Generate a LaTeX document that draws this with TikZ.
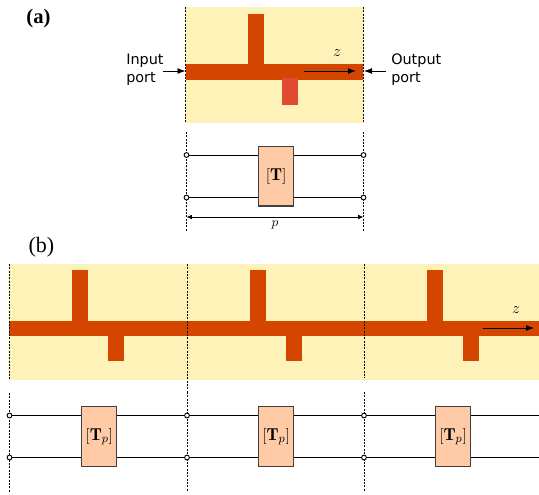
\documentclass[tikz,border=0pt]{standalone}
\usepackage{fontspec}
\newfontfamily\portfont{DejaVu Sans}
\newfontfamily\tagfont{Liberation Serif}
\usetikzlibrary{positioning,arrows.meta}
\definecolor{substrate}{HTML}{FFF2B8}
\definecolor{strip}{HTML}{D44500}
\definecolor{stubred}{HTML}{DF4A30}
\definecolor{blockfill}{HTML}{FFCBA6}
\begin{document}
\begin{tikzpicture}
[x=0.75pt,y=-0.75pt,
cell/.style={draw=black!75,fill=blockfill,line width=0.8pt,minimum width=26.5pt,minimum height=44.5pt,inner sep=0pt,font=\fontsize{13}{15}\selectfont},
term/.style={draw,circle,fill=white,line width=0.7pt,minimum size=3.6pt,inner sep=0pt},
port/.style={font=\portfont\fontsize{10.8}{13.5}\selectfont,align=left,anchor=west,inner sep=0pt},
tag/.style={font=\tagfont\fontsize{16.5}{18}\selectfont,inner sep=0pt},
wire/.style={line width=0.7pt},
cut/.style={line width=0.5pt,dash pattern=on 1.5pt off 1pt},
axis/.style={-{Latex[length=6pt,width=4.5pt]},line width=0.7pt}]
\useasboundingbox (0,0) rectangle (539,494);
% panel a, layout
\fill[substrate] (185,7) rectangle (364,123);
\fill[strip] (185.5,64) rectangle (363,79.5);
\fill[strip] (248,14) rectangle (264,64);
\fill[stubred] (282,78) rectangle (298,105);
\coordinate (ca1) at (185.5,7); \coordinate (ca2) at (185.5,123);
\coordinate (cb1) at (363.5,7); \coordinate (cb2) at (363.5,123);
\draw[cut] (ca1) -- (ca2); \draw[cut] (cb1) -- (cb2);
\node[tag,font=\tagfont\bfseries\fontsize{15.5}{18}\selectfont](taga) at (38.5,19){(a)};
\node[port](inport) at (126,69.5){Input\\port};
\node[port](outport) at (391,69.5){Output\\port};
\coordinate (ina) at (163,71); \coordinate (inb) at (185.5,71);
\coordinate (outa) at (386,71); \coordinate (outb) at (364,71);
\draw[axis] (ina) -- (inb); \draw[axis] (outa) -- (outb);
\coordinate (za) at (304,71); \coordinate (zb) at (356,71);
\draw[axis] (za) -- (zb);
\node[font=\fontsize{13}{15}\selectfont](za label) at (337,53){$z$};
% panel a, circuit
\coordinate (da1) at (186.5,132); \coordinate (da2) at (186.5,232);
\coordinate (db1) at (363.5,132); \coordinate (db2) at (363.5,232);
\draw[cut] (da1) -- (da2); \draw[cut] (db1) -- (db2);
\node[cell](T) at (276.2,176.3){$[\mathbf{T}]$};
\node[term](t1) at (186.5,155){}; \node[term](t2) at (186.5,197.5){};
\node[term](t3) at (363.5,155){}; \node[term](t4) at (363.5,197.5){};
\draw[wire] (t1) -- (T.west |- t1); \draw[wire] (T.east |- t3) -- (t3);
\draw[wire] (t2) -- (T.west |- t2); \draw[wire] (T.east |- t4) -- (t4);
\coordinate (pa) at (186.5,217); \coordinate (pb) at (363.5,217);
\draw[{Latex[length=4pt,width=3.5pt]}-{Latex[length=4pt,width=3.5pt]},line width=0.7pt] (pa) -- (pb);
\node(p label) at (275,225){$p$};
% panel b, layout
\node[tag](tagb) at (41.5,247){(b)};
\fill[substrate] (9,264) rectangle (539,379.5);
\fill[strip] (9,321) rectangle (539,336);
\fill[strip] (72,270) rectangle (88,321);
\fill[strip] (249.5,270) rectangle (265.5,321);
\fill[strip] (427,270) rectangle (443,321);
\fill[strip] (108,336) rectangle (124,361);
\fill[strip] (285.5,336) rectangle (301.5,361);
\fill[strip] (463,336) rectangle (479,361);
\coordinate (ea1) at (9.5,264); \coordinate (ea2) at (9.5,379);
\coordinate (eb1) at (187,264); \coordinate (eb2) at (187,392);
\coordinate (ec1) at (364,264); \coordinate (ec2) at (364,378);
\draw[cut] (ea1) -- (ea2); \draw[cut] (eb1) -- (eb2); \draw[cut] (ec1) -- (ec2);
\coordinate (zc) at (483,328); \coordinate (zd) at (534,328);
\draw[axis] (zc) -- (zd);
\node[font=\fontsize{13}{15}\selectfont](zb label) at (516,310){$z$};
% panel b, circuit
\coordinate (fa1) at (9.5,393); \coordinate (fa2) at (9.5,492);
\coordinate (fb1) at (187,392); \coordinate (fb2) at (187,492);
\coordinate (fc1) at (364,392); \coordinate (fc2) at (364,492);
\draw[cut] (fa1) -- (fa2); \draw[cut] (fb1) -- (fb2); \draw[cut] (fc1) -- (fc2);
\node[cell](Tp1) at (99.2,436.5){$[\mathbf{T}_p]$};
\node[cell,right=105.4pt of Tp1](Tp2){$[\mathbf{T}_p]$};
\node[cell,right=105.4pt of Tp2](Tp3){$[\mathbf{T}_p]$};
\node[term](u1) at (9.5,415.5){}; \node[term](u2) at (9.5,457.5){};
\node[term](u3) at (187,415.5){}; \node[term](u4) at (187,457.5){};
\node[term](u5) at (364,415.5){}; \node[term](u6) at (364,457.5){};
\coordinate (v1) at (539,415.5); \coordinate (v2) at (539,457.5);
\draw[wire] (u1) -- (Tp1.west |- u1); \draw[wire] (Tp1.east |- u3) -- (u3);
\draw[wire] (u3) -- (Tp2.west |- u3); \draw[wire] (Tp2.east |- u5) -- (u5);
\draw[wire] (u5) -- (Tp3.west |- u5); \draw[wire] (Tp3.east |- v1) -- (v1);
\draw[wire] (u2) -- (Tp1.west |- u2); \draw[wire] (Tp1.east |- u4) -- (u4);
\draw[wire] (u4) -- (Tp2.west |- u4); \draw[wire] (Tp2.east |- u6) -- (u6);
\draw[wire] (u6) -- (Tp3.west |- u6); \draw[wire] (Tp3.east |- v2) -- (v2);
\end{tikzpicture}
\end{document}
